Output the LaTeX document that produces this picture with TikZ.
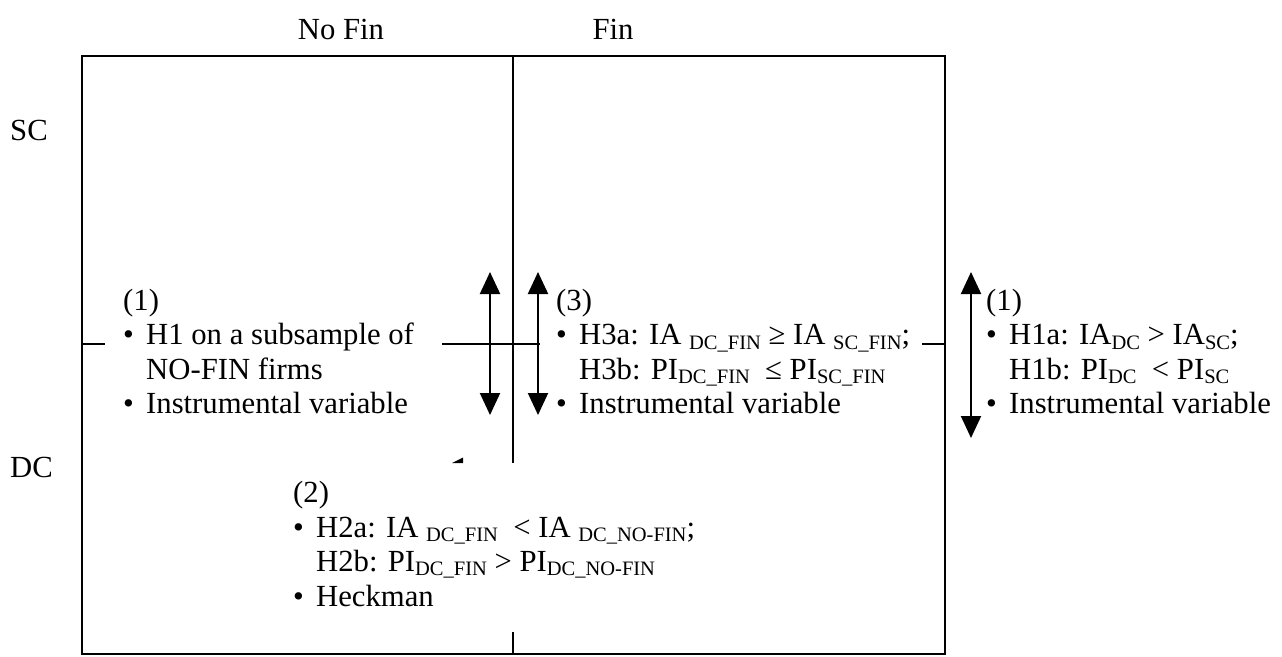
\documentclass[tikz,border=0pt]{standalone}
\usepackage{fontspec}
\setmainfont{Liberation Serif}
\usetikzlibrary{arrows.meta}
% lowered, smaller index text as used in the hypotheses
\newcommand\lowsub[1]{\raisebox{-4.5pt}{\fontsize{20.5}{20.5}\selectfont #1}}
% bullet with hanging indent, and the matching indent for continuation lines
\newcommand\bul{\makebox[23pt][l]{•}}
\newcommand\hang{\hspace*{23pt}}

\begin{document}
\begin{tikzpicture}[x=1pt,y=-1pt,
  txt/.style={anchor=base west, inner sep=0pt, font=\fontsize{30.7}{34.5}\selectfont},
  rule/.style={line width=2pt},
  cover/.style={fill=white, draw=none},
  twoway/.style={line width=2pt, {Triangle[width=20pt,length=22pt]}-{Triangle[width=20pt,length=22pt]}}]
\useasboundingbox (0,0) rectangle (1282,656);

% frame of the 2x2 grid
\coordinate (tl) at (82,55.5);
\coordinate (br) at (945,654);
\coordinate (mt) at (513,55.5);
\coordinate (mb) at (513,654);
\coordinate (ml) at (82,344);
\coordinate (mr) at (945,344);
\draw[rule] (tl) rectangle (br);
\draw[rule] (mt) -- (mb);
\draw[rule] (ml) -- (mr);

% white panels behind the text blocks
\fill[cover] (105,268) rectangle (442,428);
\fill[cover] (539.5,268) rectangle (922,428);
\fill[cover] (262,463) rectangle (730,632);

% small wedge peeking above the lower panel
\fill (452,463) -- (463,457.5) -- (463,463) -- cycle;

% two-way comparison arrows
\coordinate (a1t) at (490,272);
\coordinate (a1b) at (490,415);
\coordinate (a2t) at (538,272);
\coordinate (a2b) at (538,415);
\coordinate (a3t) at (971,272);
\coordinate (a3b) at (971,438);
\draw[twoway] (a1b) -- (a1t);
\draw[twoway] (a2b) -- (a2t);
\draw[twoway] (a3b) -- (a3t);

% column and row headings
\node[txt, anchor=base] (nofin) at (341,39) {No Fin};
\node[txt, anchor=base] (fin) at (613,39) {Fin};
\node[txt] (sc) at (10,140) {SC};
\node[txt] (dc) at (10,477) {DC};

% block (1), no-fin cell
\node[txt] (a0) at (123,310) {(1)};
\node[txt] (a1) at (123,344.5) {\bul H1 on a subsample of};
\node[txt] (a2) at (123,379) {\hang NO-FIN firms};
\node[txt] (a3) at (123,413.5) {\bul Instrumental variable};

% block (3), fin cell
\node[txt] (b0) at (556,310) {(3)};
\node[txt] (b1) at (556,344.5) {\bul H3a: IA \lowsub{DC\_FIN} ≥ IA \lowsub{SC\_FIN};};
\node[txt] (b2) at (556,379) {\hang H3b: PI\lowsub{DC\_FIN} \ ≤ PI\lowsub{SC\_FIN}};
\node[txt] (b3) at (556,413.5) {\bul Instrumental variable};

% block (1), full sample
\node[txt] (c0) at (986,310) {(1)};
\node[txt] (c1) at (986,344.5) {\bul H1a: IA\lowsub{DC} > IA\lowsub{SC};};
\node[txt] (c2) at (986,379) {\hang H1b: PI\lowsub{DC} \ < PI\lowsub{SC}};
\node[txt] (c3) at (986,413.5) {\bul Instrumental variable};

% block (2), DC row
\node[txt] (d0) at (293,502) {(2)};
\node[txt] (d1) at (293,537) {\bul H2a: IA \lowsub{DC\_FIN} \ < IA \lowsub{DC\_NO-FIN};};
\node[txt] (d2) at (293,571) {\hang H2b: PI\lowsub{DC\_FIN} > PI\lowsub{DC\_NO-FIN}};
\node[txt] (d3) at (293,606) {\bul Heckman};
\end{tikzpicture}
\end{document}
